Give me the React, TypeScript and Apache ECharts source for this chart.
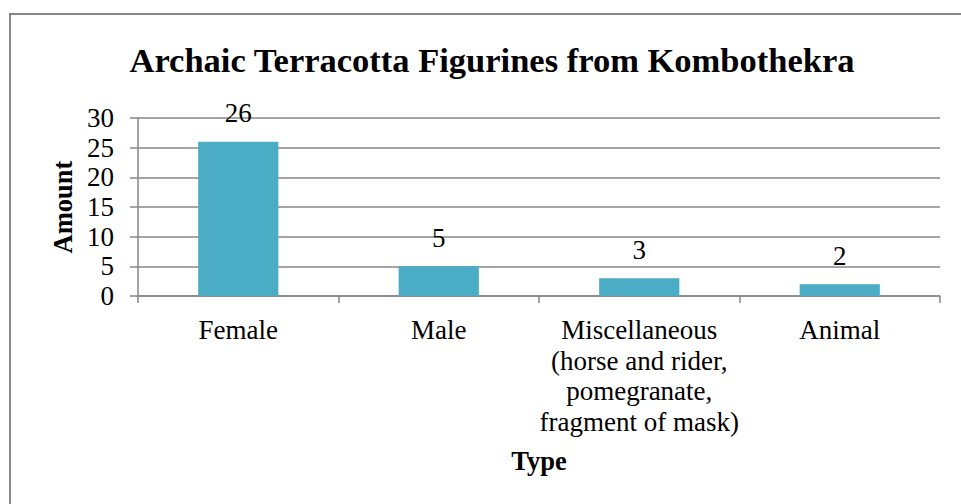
import React, { useEffect, useRef } from "react";
import * as echarts from "echarts";

const titleText = "Archaic Terracotta Figurines from Kombothekra";
const categories = [
  "Female",
  "Male",
  "Miscellaneous\n(horse and rider,\npomegranate,\nfragment of mask)",
  "Animal",
];
const amounts = [26, 5, 3, 2];
const yAxisName = "Amount";
const xAxisName = "Type";

const FONT = "'Liberation Serif', 'Times New Roman', serif";
const GRAY = "#878787";

export default function App() {
  const ref = useRef<HTMLDivElement>(null);
  useEffect(() => {
    if (!ref.current) return;
    const chart = echarts.init(ref.current, undefined, { renderer: "svg" });
    chart.setOption({
      animation: false,
      backgroundColor: "#ffffff",
      textStyle: { fontFamily: FONT },
      title: {
        text: titleText,
        left: 492,
        textAlign: "center",
        top: 42,
        padding: 0,
        textStyle: { fontFamily: FONT, fontSize: 34.5, fontWeight: "bold", color: "#000" },
      },
      graphic: [
        {
          type: "polyline",
          shape: { points: [[10, 600], [10, 14], [1000, 14]] },
          style: { stroke: GRAY, lineWidth: 2, fill: "none" },
          silent: true,
        },
      ],
      grid: { left: 138, right: 21, top: 118, bottom: 208, containLabel: false },
      xAxis: {
        type: "category",
        data: categories,
        name: xAxisName,
        nameLocation: "middle",
        nameGap: 151,
        nameTextStyle: { fontFamily: FONT, fontSize: 26.5, fontWeight: "bold", color: "#000" },
        axisLine: { show: true, lineStyle: { color: GRAY, width: 1.5 } },
        axisTick: { show: true, length: 7, lineStyle: { color: GRAY, width: 1.5 } },
        axisLabel: {
          interval: 0,
          margin: 19,
          fontFamily: FONT,
          fontSize: 27,
          lineHeight: 30.5,
          color: "#000",
        },
        splitLine: { show: false },
      },
      yAxis: {
        type: "value",
        min: 0,
        max: 30,
        interval: 5,
        name: yAxisName,
        nameLocation: "middle",
        nameRotate: 90,
        nameGap: 62,
        nameTextStyle: { fontFamily: FONT, fontSize: 26.5, fontWeight: "bold", color: "#000" },
        axisLine: { show: true, lineStyle: { color: GRAY, width: 1.5 } },
        axisTick: { show: true, length: 8, lineStyle: { color: GRAY, width: 1.5 } },
        axisLabel: { margin: 24, fontFamily: FONT, fontSize: 27, color: "#000" },
        splitLine: { show: true, lineStyle: { color: GRAY, width: 1.5 } },
      },
      series: [
        {
          type: "bar",
          data: amounts,
          barWidth: "40%",
          itemStyle: { color: "#4BACC6" },
          label: {
            show: true,
            position: "top",
            distance: 15,
            fontFamily: FONT,
            fontSize: 27,
            color: "#000",
          },
        },
      ],
    });
    return () => chart.dispose();
  }, []);
  return (
    <div
      ref={ref}
      style={{ position: "fixed", left: 0, top: 0, width: 961, height: 504, background: "#fff" }}
    />
  );
}
